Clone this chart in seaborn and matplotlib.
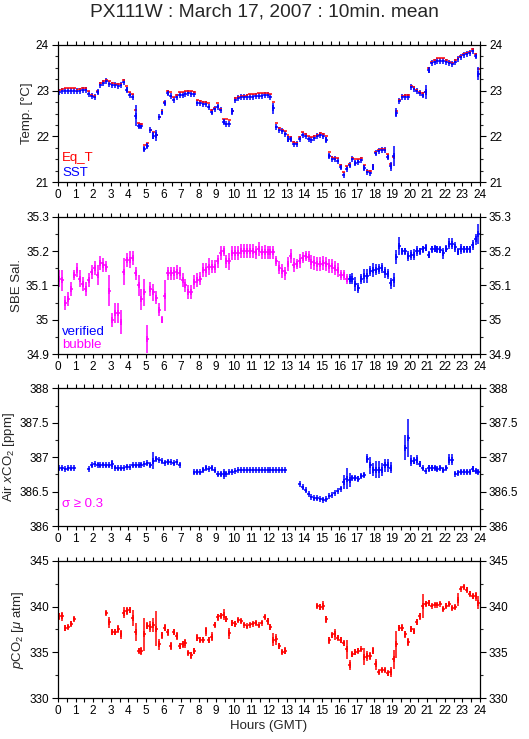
import numpy as np
import pandas as pd
import matplotlib
matplotlib.use("Agg")
import matplotlib.pyplot as plt
from matplotlib.ticker import MultipleLocator
import seaborn as sns

NaN = np.nan

# ---------------- data (10-minute means, 144 per day) ----------------
sst = [22.97, 22.99, 23.00, 23.00, 23.00, 23.00,
       22.98, 23.00, 23.01, 23.02, 22.93, 22.88,
       22.85, 22.97, 23.13, 23.16, 23.20, 23.15,
       23.12, 23.12, 23.10, 23.12, 23.18, 23.02,
       22.90, 22.85, 22.45, 22.23, 22.22, 21.73,
       21.80, 22.13, 22.02, 22.03, 22.42, 22.53,
       22.73, 22.95, 22.88, 22.80, 22.85, 22.90,
       22.90, 22.93, 22.95, 22.93, 22.92, 22.73,
       22.72, 22.70, 22.70, 22.65, 22.53, 22.60,
       22.65, 22.57, 22.32, 22.28, 22.28, 22.55,
       22.80, 22.83, 22.85, 22.85, 22.86, 22.87,
       22.87, 22.88, 22.88, 22.89, 22.90, 22.90,
       22.87, 22.62, 22.20, 22.13, 22.12, 22.05,
       21.95, 21.95, 21.83, 21.83, 21.95, 22.03,
       22.00, 21.95, 21.93, 21.97, 22.00, 22.03,
       22.00, 21.93, 21.58, 21.50, 21.50, 21.47,
       21.33, 21.17, 21.30, 21.37, 21.50, 21.42,
       21.45, 21.48, 21.32, 21.22, 21.20, 21.33,
       21.63, 21.68, 21.70, 21.70, 21.55, 21.35,
       21.58, 22.52, 22.78, 22.87, 22.87, 22.87,
       23.08, 23.03, 23.00, 22.95, 22.90, 22.97,
       23.45, 23.60, 23.62, 23.65, 23.65, 23.65,
       23.63, 23.60, 23.57, 23.63, 23.68, 23.73,
       23.78, 23.80, 23.82, 23.87, 23.75, 23.37]

sst_err = [0.01, 0.01, 0.01, 0.01, 0.01, 0.01,
           0.01, 0.01, 0.01, 0.01, 0.015, 0.02,
           0.02, 0.05, 0.015, 0.01, 0.01, 0.01,
           0.01, 0.01, 0.01, 0.01, 0.015, 0.06,
           0.015, 0.02, 0.23, 0.05, 0.03, 0.04,
           0.05, 0.02, 0.08, 0.12, 0.02, 0.03,
           0.05, 0.04, 0.03, 0.015, 0.015, 0.015,
           0.015, 0.015, 0.015, 0.015, 0.015, 0.02,
           0.015, 0.015, 0.015, 0.02, 0.03, 0.03,
           0.03, 0.02, 0.05, 0.02, 0.015, 0.08,
           0.02, 0.015, 0.01, 0.01, 0.01, 0.01,
           0.01, 0.01, 0.01, 0.01, 0.01, 0.01,
           0.015, 0.12, 0.02, 0.015, 0.015, 0.02,
           0.07, 0.04, 0.02, 0.02, 0.03, 0.02,
           0.015, 0.02, 0.015, 0.015, 0.015, 0.015,
           0.015, 0.05, 0.04, 0.015, 0.015, 0.02,
           0.04, 0.02, 0.04, 0.03, 0.02, 0.04,
           0.03, 0.02, 0.05, 0.02, 0.02, 0.06,
           0.03, 0.015, 0.015, 0.015, 0.05, 0.1,
           0.22, 0.1, 0.02, 0.02, 0.02, 0.02,
           0.015, 0.02, 0.02, 0.02, 0.03, 0.15,
           0.07, 0.02, 0.015, 0.015, 0.015, 0.015,
           0.015, 0.015, 0.02, 0.015, 0.015, 0.015,
           0.015, 0.015, 0.015, 0.015, 0.05, 0.15]

eq_t = [23.02, 23.03, 23.05, 23.06, 23.06, 23.06,
        23.02, 23.03, 23.05, 23.06, 23.00, 22.90,
        22.88, 23.00, 23.17, 23.20, 23.23, 23.20,
        23.17, 23.15, 23.15, 23.15, 23.24, 23.10,
        22.97, 22.92, 22.57, 22.30, 22.27, 21.82,
        21.85, 22.15, 22.10, 22.03, 22.43, 22.55,
        22.75, 22.98, 22.97, 22.85, 22.90, 22.97,
        22.97, 22.98, 23.00, 22.98, 22.97, 22.80,
        22.78, 22.76, 22.75, 22.72, 22.58, 22.62,
        22.73, 22.60, 22.38, 22.37, 22.35, 22.56,
        22.83, 22.86, 22.88, 22.88, 22.90, 22.92,
        22.93, 22.93, 22.94, 22.95, 22.95, 22.94,
        22.92, 22.75, 22.30, 22.18, 22.15, 22.12,
        22.03, 21.98, 21.87, 21.86, 21.98, 22.10,
        22.05, 22.02, 21.98, 22.00, 22.03, 22.07,
        22.05, 22.02, 21.67, 21.55, 21.53, 21.52,
        21.38, 21.22, 21.35, 21.40, 21.53, 21.50,
        21.50, 21.52, 21.38, 21.25, 21.25, 21.35,
        21.67, 21.70, 21.72, 21.73, 21.62, 21.40,
        21.55, 22.55, 22.80, 22.88, 22.90, 22.90,
        23.10, 23.08, 23.02, 22.97, 22.95, 22.97,
        23.50, 23.63, 23.66, 23.70, 23.70, 23.70,
        23.66, 23.62, 23.60, 23.66, 23.70, 23.76,
        23.80, 23.83, 23.85, 23.90, 23.80, 23.48]

sal = [35.120, 35.115, 35.050, 35.060, 35.090, 35.130,
       35.145, 35.120, 35.105, 35.090, 35.115, 35.140,
       35.150, 35.130, 35.165, 35.160, 35.155, 35.085,
       35.000, 35.020, 35.020, 34.995, 35.140, 35.175,
       35.175, 35.180, 35.135, 35.100, 35.060, 35.080,
       34.945, 35.090, 35.080, 35.065, 35.030, 35.000,
       35.070, 35.135, 35.135, 35.135, 35.140, 35.135,
       35.115, 35.100, 35.080, 35.080, 35.110, 35.115,
       35.120, 35.145, 35.145, 35.155, 35.155, 35.155,
       35.170, 35.195, 35.200, 35.170, 35.170, 35.195,
       35.195, 35.195, 35.200, 35.200, 35.200, 35.200,
       35.200, 35.196, 35.205, 35.196, 35.198, 35.196,
       35.196, 35.196, 35.172, 35.152, 35.143, 35.135,
       35.162, 35.186, 35.160, 35.162, 35.172, 35.181,
       35.186, 35.184, 35.169, 35.165, 35.162, 35.162,
       35.165, 35.162, 35.157, 35.157, 35.150, 35.146,
       35.130, 35.130, 35.119, 35.119, 35.120, 35.104,
       35.092, 35.119, 35.128, 35.128, 35.143, 35.146,
       35.146, 35.148, 35.150, 35.138, 35.133, 35.106,
       35.117, 35.183, 35.215, 35.200, 35.200, 35.186,
       35.188, 35.190, 35.200, 35.200, 35.205, 35.210,
       35.190, 35.205, 35.207, 35.205, 35.204, 35.193,
       35.207, 35.222, 35.222, 35.212, 35.198, 35.207,
       35.205, 35.205, 35.205, 35.218, 35.234, 35.250]

sal_err = [0.025, 0.03, 0.02, 0.02, 0.02, 0.015,
           0.02, 0.025, 0.02, 0.02, 0.02, 0.02,
           0.02, 0.03, 0.02, 0.02, 0.015, 0.045,
           0.02, 0.03, 0.03, 0.035, 0.04, 0.02,
           0.025, 0.02, 0.02, 0.03, 0.03, 0.04,
           0.04, 0.02, 0.025, 0.02, 0.02, 0.01,
           0.045, 0.02, 0.02, 0.02, 0.02, 0.02,
           0.02, 0.02, 0.02, 0.02, 0.02, 0.02,
           0.02, 0.02, 0.02, 0.025, 0.02, 0.02,
           0.02, 0.02, 0.015, 0.02, 0.025, 0.02,
           0.02, 0.02, 0.02, 0.02, 0.02, 0.02,
           0.02, 0.02, 0.02, 0.02, 0.02, 0.02,
           0.02, 0.02, 0.015, 0.02, 0.02, 0.02,
           0.02, 0.02, 0.02, 0.015, 0.02, 0.015,
           0.015, 0.015, 0.02, 0.02, 0.02, 0.02,
           0.02, 0.02, 0.02, 0.02, 0.02, 0.02,
           0.015, 0.015, 0.015, 0.015, 0.015, 0.02,
           0.015, 0.015, 0.02, 0.02, 0.015, 0.02,
           0.015, 0.015, 0.015, 0.015, 0.015, 0.015,
           0.02, 0.02, 0.025, 0.01, 0.01, 0.015,
           0.015, 0.015, 0.015, 0.01, 0.01, 0.01,
           0.01, 0.01, 0.01, 0.01, 0.01, 0.015,
           0.01, 0.015, 0.015, 0.015, 0.01, 0.015,
           0.01, 0.01, 0.01, 0.015, 0.015, 0.03]

n_bubble = 99      # first 99 salinity means flagged "bubble", rest "verified"

xco2 = [386.84, 386.84, 386.83, 386.84, 386.84, 386.84,
        NaN, NaN, NaN, NaN, 386.83, 386.88,
        386.90, 386.89, 386.88, 386.89, 386.88, 386.88,
        386.90, 386.85, 386.84, 386.84, 386.85, 386.86,
        386.86, 386.88, 386.88, 386.88, 386.89, 386.90,
        386.91, 386.89, 386.95, 386.97, 386.96, 386.94,
        386.92, 386.93, 386.93, 386.91, 386.93, 386.89,
        NaN, NaN, NaN, NaN, 386.78, 386.79,
        386.78, 386.82, 386.84, 386.83, 386.84, 386.81,
        386.75, 386.75, 386.76, 386.76, 386.78, 386.79,
        386.80, 386.81, 386.81, 386.81, 386.81, 386.81,
        386.81, 386.81, 386.81, 386.81, 386.81, 386.81,
        386.81, 386.81, 386.81, 386.81, 386.81, 386.81,
        NaN, NaN, NaN, NaN, 386.61, 386.56,
        386.52, 386.46, 386.42, 386.40, 386.40, 386.39,
        386.38, 386.39, 386.43, 386.45, 386.48, 386.51,
        386.54, 386.64, 386.69, 386.67, 386.70, 386.70,
        386.69, 386.73, 386.74, 386.98, 386.88, 386.82,
        386.82, 386.82, 386.82, 386.88, 386.88, 386.85,
        NaN, NaN, NaN, NaN, 387.14, 387.28,
        386.95, 386.95, 386.96, 386.90, 386.84, 386.80,
        386.84, 386.84, 386.84, 386.83, 386.84, 386.81,
        386.84, 386.96, 386.96, 386.76, 386.77, 386.78,
        386.79, 386.78, 386.79, 386.83, 386.80, 386.79]

xco2_err = [0.02, 0.02, 0.02, 0.02, 0.02, 0.015,
            NaN, NaN, NaN, NaN, 0.02, 0.02,
            0.02, 0.02, 0.015, 0.02, 0.015, 0.015,
            0.065, 0.02, 0.02, 0.02, 0.015, 0.02,
            0.015, 0.02, 0.02, 0.015, 0.02, 0.02,
            0.02, 0.03, 0.12, 0.03, 0.02, 0.02,
            0.02, 0.025, 0.02, 0.025, 0.02, 0.02,
            NaN, NaN, NaN, NaN, 0.02, 0.03,
            0.02, 0.03, 0.03, 0.02, 0.03, 0.02,
            0.02, 0.03, 0.07, 0.02, 0.02, 0.02,
            0.015, 0.015, 0.015, 0.015, 0.015, 0.015,
            0.015, 0.015, 0.015, 0.015, 0.015, 0.015,
            0.015, 0.015, 0.015, 0.015, 0.015, 0.015,
            NaN, NaN, NaN, NaN, 0.02, 0.015,
            0.02, 0.015, 0.015, 0.015, 0.015, 0.015,
            0.02, 0.02, 0.015, 0.015, 0.015, 0.02,
            0.02, 0.1, 0.15, 0.1, 0.03, 0.03,
            0.03, 0.03, 0.03, 0.07, 0.13, 0.1,
            0.12, 0.12, 0.1, 0.1, 0.1, 0.08,
            NaN, NaN, NaN, NaN, 0.18, 0.27,
            0.08, 0.05, 0.07, 0.04, 0.02, 0.02,
            0.05, 0.04, 0.03, 0.03, 0.03, 0.03,
            0.03, 0.08, 0.08, 0.02, 0.03, 0.03,
            0.02, 0.03, 0.03, 0.04, 0.03, 0.03]

pco2 = [338.95, 338.95, 337.68, 337.75, 338.15, 338.66,
        NaN, NaN, NaN, NaN, NaN, NaN,
        NaN, NaN, NaN, NaN, 339.30, 338.30,
        337.20, 337.20, 337.57, 336.96, 339.30, 339.50,
        339.60, 338.77, 337.20, 335.20, 335.14, 336.96,
        337.90, 337.80, 338.00, 337.60, 335.87, 336.85,
        337.68, 337.20, 335.70, 337.20, 336.78, 335.70,
        335.87, 335.98, 334.96, 334.67, 335.14, 336.60,
        336.40, 336.40, 337.30, 336.34, 336.70, 338.04,
        338.84, 339.00, 339.13, 338.66, 337.07, 338.22,
        338.12, 338.50, 338.40, 338.04, 337.86, 338.04,
        338.12, 338.22, 337.97, 338.22, 338.84, 338.40,
        337.75, 336.40, 336.45, 335.70, 335.04, 335.20,
        NaN, NaN, NaN, NaN, NaN, NaN,
        NaN, NaN, NaN, NaN, 340.04, 339.96,
        340.10, 338.60, 336.30, 336.85, 336.96, 336.60,
        336.34, 335.98, 335.33, 333.62, 334.78, 335.04,
        335.20, 335.33, 334.53, 334.60, 334.60, 335.20,
        333.70, 332.86, 333.08, 333.08, 332.72, 332.86,
        334.24, 335.87, 337.68, 337.68, 336.96, 336.12,
        337.57, 337.30, 338.30, 338.95, 340.04, 340.33,
        340.40, 340.10, 340.22, 340.22, 340.33, 339.75,
        340.10, 340.29, 339.86, 339.93, 340.76, 341.96,
        342.14, 341.85, 341.41, 341.12, 341.12, 340.40]

pco2_err = [0.4, 0.5, 0.3, 0.2, 0.3, 0.25,
            NaN, NaN, NaN, NaN, NaN, NaN,
            NaN, NaN, NaN, NaN, 0.2, 0.6,
            0.3, 0.35, 0.4, 0.5, 0.6, 0.4,
            0.35, 0.9, 1.0, 0.3, 0.4, 1.8,
            0.4, 0.6, 0.8, 1.9, 0.6, 0.4,
            0.4, 0.4, 0.4, 0.3, 0.4, 0.3,
            0.4, 0.5, 0.2, 0.35, 0.3, 0.4,
            0.3, 0.3, 0.5, 0.3, 0.5, 0.3,
            0.4, 0.3, 0.6, 0.3, 0.6, 0.3,
            0.3, 0.2, 0.2, 0.2, 0.15, 0.15,
            0.15, 0.2, 0.15, 0.15, 0.2, 0.4,
            0.3, 0.7, 0.6, 0.3, 0.2, 0.35,
            NaN, NaN, NaN, NaN, NaN, NaN,
            NaN, NaN, NaN, NaN, 0.2, 0.3,
            0.5, 0.4, 0.4, 0.3, 0.6, 0.3,
            0.3, 0.3, 1.0, 0.5, 0.3, 0.3,
            0.3, 0.2, 0.9, 0.5, 0.4, 0.4,
            0.6, 0.2, 0.2, 0.2, 0.3, 0.5,
            1.0, 1.5, 0.3, 0.4, 0.4, 0.4,
            0.3, 0.3, 0.3, 0.4, 1.3, 0.3,
            0.3, 0.2, 0.15, 0.15, 0.2, 0.2,
            0.3, 0.2, 0.2, 0.2, 0.7, 0.2,
            0.2, 0.3, 0.3, 0.3, 0.5, 0.7]

hour_ticks = list(range(0, 25))
title = "PX111W : March 17, 2007 : 10min. mean"

# ---------------- table ----------------
hours = (np.arange(len(sst)) + 0.5) / 6.0
df = pd.DataFrame({"hour": hours, "sst": sst, "sst_err": sst_err, "eq_t": eq_t,
                   "sal": sal, "sal_err": sal_err,
                   "xco2": xco2, "xco2_err": xco2_err,
                   "pco2": pco2, "pco2_err": pco2_err})
df["sal_flag"] = ["bubble"] * n_bubble + ["verified"] * (len(sal) - n_bubble)

# ---------------- style ----------------
sns.set_theme(style="ticks")
plt.rcParams["font.family"] = ["Liberation Sans", "DejaVu Sans"]
plt.rcParams["mathtext.fontset"] = "custom"
plt.rcParams["mathtext.rm"] = "Liberation Sans"
plt.rcParams["mathtext.it"] = "Liberation Sans:italic"
plt.rcParams["axes.linewidth"] = 0.9
plt.rcParams["axes.edgecolor"] = "black"

RED, BLUE, MAG = "#ff0000", "#0000ff", "#ff00ff"
half = 1.0 / 12.0
LW = 1.1

fig = plt.figure(figsize=(5.29, 7.39), dpi=100)
L, W, H = 0.1096, 0.7977, 0.1862
bottoms = [0.7533, 0.5206, 0.2882, 0.0551]
axes = [fig.add_axes([L, b, W, H]) for b in bottoms]


def crosses(ax, d, ycol, ecol, color, tick=True):
    """10-min mean: horizontal bar spans the interval, vertical bar = std."""
    e = None if ecol is None else d[ecol]
    ax.errorbar(d["hour"], d[ycol], xerr=half, yerr=e, fmt="none",
                ecolor=color, elinewidth=LW, capsize=0)
    if tick:
        # small vertical stroke marking each mean (cross symbol)
        sns.scatterplot(data=d, x="hour", y=ycol, ax=ax, marker="|", s=16,
                        color=color, linewidth=LW, legend=False)


def style(ax, ylim, major, minor):
    ax.set_xlim(0, 24)
    ax.set_ylim(*ylim)
    ax.set_xticks(hour_ticks)
    ax.xaxis.set_minor_locator(MultipleLocator(0.5))
    ax.yaxis.set_major_locator(MultipleLocator(major))
    ax.yaxis.set_minor_locator(MultipleLocator(minor))
    ax.yaxis.set_major_formatter(plt.FuncFormatter(lambda v, p: f"{v:g}"))
    ax.tick_params(axis="x", which="both", direction="out", length=3, width=0.8,
                   top=True, bottom=True, labelsize=8.5, pad=2, colors="black")
    ax.tick_params(axis="y", which="major", direction="out", length=4.5, width=0.8,
                   left=True, right=True, labelleft=True, labelright=True,
                   labelsize=8.5, pad=2, colors="black")
    ax.tick_params(axis="y", which="minor", direction="out", length=2.5, width=0.8,
                   left=True, right=True)
    ax.set_xlabel("")
    ax.grid(False)
    for s in ax.spines.values():
        s.set_visible(True)
        s.set_color("black")


# Panel 1: temperatures
ax = axes[0]
crosses(ax, df, "eq_t", None, RED, tick=False)
crosses(ax, df, "sst", "sst_err", BLUE)
style(ax, (21, 24), 1, 0.25)
ax.set_ylabel("Temp. [°C]", fontsize=9.5, labelpad=2)
ax.text(0.01, 0.175, "Eq_T", color=RED, transform=ax.transAxes, fontsize=9.5, va="center")
ax.text(0.01, 0.068, "SST", color=BLUE, transform=ax.transAxes, fontsize=9.5, va="center")

# Panel 2: salinity
ax = axes[1]
for flag, col in (("bubble", MAG), ("verified", BLUE)):
    crosses(ax, df[df["sal_flag"] == flag], "sal", "sal_err", col)
style(ax, (34.9, 35.3), 0.1, 0.05)
ax.set_ylabel("SBE Sal.", fontsize=9.5, labelpad=2)
ax.text(0.01, 0.163, "verified", color=BLUE, transform=ax.transAxes, fontsize=9.5, va="center")
ax.text(0.01, 0.067, "bubble", color=MAG, transform=ax.transAxes, fontsize=9.5, va="center")

# Panel 3: air xCO2
ax = axes[2]
crosses(ax, df.dropna(subset=["xco2"]), "xco2", "xco2_err", BLUE)
style(ax, (386, 388), 0.5, 0.25)
ax.set_ylabel(r"Air $x$CO$_2$ [ppm]", fontsize=9.5, labelpad=2)
ax.text(0.01, 0.16, "σ ≥ 0.3", color=MAG, transform=ax.transAxes, fontsize=9.5, va="center")

# Panel 4: pCO2
ax = axes[3]
crosses(ax, df.dropna(subset=["pco2"]), "pco2", "pco2_err", RED)
style(ax, (330, 345), 5, 2.5)
ax.set_ylabel(r"$p$CO$_2$ [$\mu$ atm]", fontsize=9.5, labelpad=2)
ax.set_xlabel("Hours (GMT)", fontsize=9.5, labelpad=2)

fig.text(0.5, 0.984, title, ha="center", va="center", fontsize=13.8)

fig.savefig("out.png", dpi=100, facecolor="white")
